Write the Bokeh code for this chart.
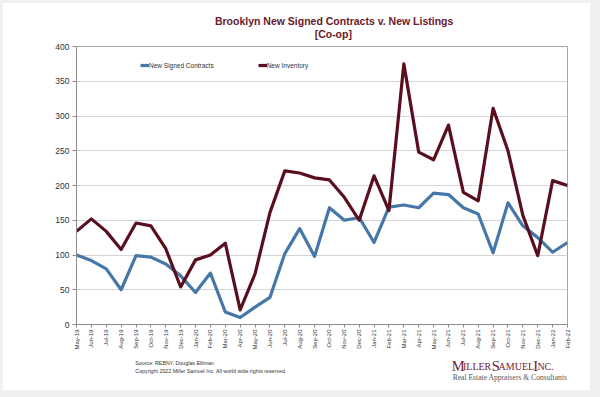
from bokeh.plotting import figure
from bokeh.models import (ColumnDataSource, FixedTicker, Legend, LegendItem, Range1d, Spacer)
from bokeh.layouts import column, row
from bokeh.core.properties import value
from bokeh.embed import file_html
from bokeh.resources import INLINE
import math

months = ["May-19", "Jun-19", "Jul-19", "Aug-19", "Sep-19", "Oct-19", "Nov-19", "Dec-19",
          "Jan-20", "Feb-20", "Mar-20", "Apr-20", "May-20", "Jun-20", "Jul-20", "Aug-20",
          "Sep-20", "Oct-20", "Nov-20", "Dec-20", "Jan-21", "Feb-21", "Mar-21", "Apr-21",
          "May-21", "Jun-21", "Jul-21", "Aug-21", "Sep-21", "Oct-21", "Nov-21", "Dec-21",
          "Jan-22", "Feb-22"]
signed_contracts = [100, 92, 80, 50, 99, 97, 87, 70, 46, 74, 18, 10, 25, 39, 102, 138,
                    98, 168, 150, 154, 118, 169, 172, 168, 189, 187, 168, 159, 103, 175,
                    142, 125, 104, 118]
new_inventory = [134, 152, 134, 108, 146, 142, 109, 54, 93, 100, 117, 21, 73, 161, 221, 218,
                 211, 208, 183, 150, 214, 164, 375, 248, 237, 287, 190, 178, 311, 250,
                 157, 99, 207, 200]
y_ticks = [0, 50, 100, 150, 200, 250, 300, 350, 400]
title_lines = ["Brooklyn New Signed Contracts v. New Listings", "[Co-op]"]
footer_lines = ["Source: REBNY, Douglas Elliman",
                "Copyright 2022 Miller Samuel Inc.  All world wide rights reserved."]

CARD_W = 587
PAD_L, PAD_T, PAD_R, PAD_B = 3, 3, 10, 7
TOP_H, MAIN_H, BOT_H = 39, 310, 38
FRAME_BG = "#f0f0f0"

BLUE = "#4677a9"
MAROON = "#5a0f1f"
TITLE_C = "#6a1a2b"
LOGO_C = "#74202f"


def text_fig(h):
    f = figure(width=CARD_W, height=h, output_backend="svg", toolbar_location=None,
               title=None, x_range=Range1d(0, CARD_W), y_range=Range1d(h, 0),
               min_border=0, min_border_left=0, min_border_right=0,
               min_border_top=0, min_border_bottom=0)
    f.axis.visible = False
    f.grid.grid_line_color = None
    f.outline_line_color = None
    f.background_fill_color = "white"
    f.border_fill_color = "white"
    return f

# ---- title
top = text_fig(TOP_H)
top.text(x=[311 - PAD_L, 310 - PAD_L], y=[20.5 - PAD_T, 33.5 - PAD_T], text=title_lines,
         text_align="center", text_baseline="alphabetic",
         text_font=value("Liberation Sans"), text_font_style="bold",
         text_font_size="10.5px", text_color=TITLE_C)

# ---- main chart
idx = list(range(len(months)))
src = ColumnDataSource(dict(x=idx, sc=signed_contracts, ni=new_inventory))

p = figure(width=CARD_W, height=MAIN_H, output_backend="svg", toolbar_location=None,
           title=None, x_range=(0, len(months) - 1), y_range=(0, 400),
           min_border_left=76 - PAD_L, min_border_right=CARD_W - (567 - PAD_L),
           min_border_top=46 - (PAD_T + TOP_H), min_border_bottom=(PAD_T + TOP_H + MAIN_H) - 324)
p.background_fill_color = "white"
p.border_fill_color = "white"
p.outline_line_color = "#a6a6a6"
p.outline_line_width = 1

r1 = p.line("x", "sc", source=src, line_color=BLUE, line_width=3.2, line_join="round")
r2 = p.line("x", "ni", source=src, line_color=MAROON, line_width=3.2, line_join="round")

p.xgrid.grid_line_color = None
p.ygrid.grid_line_color = "#d4d4d4"
p.ygrid.grid_line_width = 1
p.yaxis.ticker = FixedTicker(ticks=y_ticks)
p.yaxis.major_label_text_font = "Liberation Sans"
p.yaxis.major_label_text_font_size = "8.5px"
p.yaxis.major_label_text_color = "#333333"
p.yaxis.axis_line_color = "#8c8c8c"
p.yaxis.major_tick_line_color = "#8c8c8c"
p.yaxis.major_tick_out = 4
p.yaxis.major_tick_in = 0
p.yaxis.minor_tick_line_color = None
p.yaxis.major_label_standoff = 3

p.xaxis.ticker = FixedTicker(ticks=idx)
p.xaxis.major_label_overrides = {i: m for i, m in enumerate(months)}
p.xaxis.major_label_orientation = math.pi / 2
p.xaxis.major_label_text_font = "Liberation Sans"
p.xaxis.major_label_text_font_size = "6px"
p.xaxis.major_label_text_color = "#333333"
p.xaxis.axis_line_color = "#8c8c8c"
p.xaxis.major_tick_line_color = "#8c8c8c"
p.xaxis.major_tick_out = 3
p.xaxis.major_tick_in = 0
p.xaxis.minor_tick_line_color = None
p.xaxis.major_label_standoff = 2

legend = Legend(items=[LegendItem(label="New Signed Contracts", renderers=[r1]),
                       LegendItem(label="New Inventory", renderers=[r2])],
                orientation="horizontal", location=(140 - 76, 324 - 69),
                label_text_font="Liberation Sans", label_text_font_size="6.5px",
                label_text_color="#333333", glyph_width=9, glyph_height=8,
                label_height=8, label_width=10, label_standoff=0, spacing=44,
                padding=0, margin=0, border_line_color=None, background_fill_alpha=0)
p.add_layout(legend, "center")

# ---- footer and logo
bot = text_fig(BOT_H)
Y0 = PAD_T + TOP_H + MAIN_H
bot.text(x=[73.3 - PAD_L] * 2, y=[362.3 - Y0, 370.3 - Y0], text=footer_lines,
         text_align="left", text_baseline="alphabetic",
         text_font=value("Liberation Sans"), text_font_size="5.3px", text_color="#333333")

logo_parts = ["M", "ILLER", "S", "AMUEL", "I", "NC."]
logo_x = [451.7, 465.0, 499.4, 507.6, 549.0, 554.0]
logo_big = [True, False, True, False, True, False]
for txt, xx, big in zip(logo_parts, logo_x, logo_big):
    bot.text(x=[xx - PAD_L], y=[365.5 - Y0], text=[txt], text_align="left",
             text_baseline="alphabetic", text_font=value("Liberation Serif"),
             text_font_size="14.6px" if big else "10px", text_color=LOGO_C)
bot.text(x=[452.7 - PAD_L], y=[376.5 - Y0], text=["Real Estate Appraisers & Consultants"],
         text_align="left", text_baseline="alphabetic", text_font=value("Liberation Serif"),
         text_font_size="7.6px", text_color="#555555")

card = column(top, p, bot, spacing=0)
layout = column(
    Spacer(width=CARD_W + PAD_L + PAD_R, height=PAD_T, styles={"background-color": FRAME_BG}),
    row(Spacer(width=PAD_L, height=TOP_H + MAIN_H + BOT_H, styles={"background-color": FRAME_BG}),
        card,
        Spacer(width=PAD_R, height=TOP_H + MAIN_H + BOT_H, styles={"background-color": FRAME_BG}),
        spacing=0),
    Spacer(width=CARD_W + PAD_L + PAD_R, height=PAD_B, styles={"background-color": FRAME_BG}),
    spacing=0)

open("out.html", "w").write(file_html(layout, INLINE))
